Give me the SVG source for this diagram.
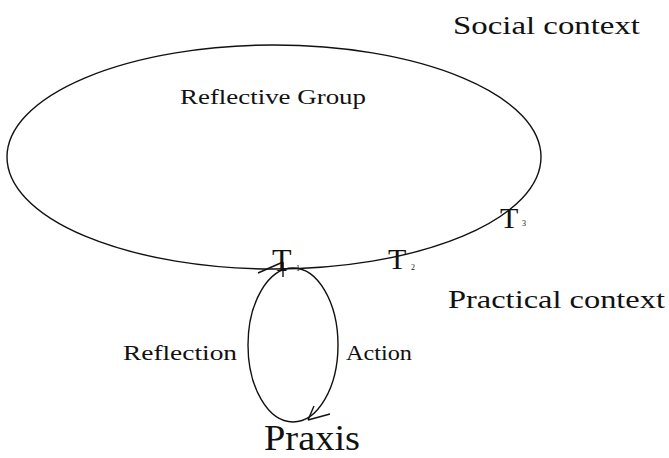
<svg xmlns="http://www.w3.org/2000/svg" width="669" height="458" viewBox="0 0 669 458">
<style>
.l{fill:none;stroke:#111;stroke-width:1.4}
.t{font-family:"Liberation Serif",serif;fill:#111}
</style>
<rect width="669" height="458" fill="#fff"/>
<g id="connectors">
<path class="l" d="M258,273 L283,262 M283,262 L283,277"/>
<path class="l" d="M308,420 L314,406 M308,420 L330,414"/>
</g>
<g id="reflective-group">
<ellipse class="l" cx="274" cy="157" rx="267" ry="112"/>
<text class="t" x="180" y="104" font-size="21" textLength="186" lengthAdjust="spacingAndGlyphs">Reflective Group</text>
</g>
<g id="praxis-cycle">
<ellipse class="l" cx="293" cy="345" rx="45" ry="77"/>
<text class="t" x="264" y="450" font-size="36" textLength="96" lengthAdjust="spacingAndGlyphs">Praxis</text>
</g>
<g id="social-context"><text class="t" x="453" y="34" font-size="25" textLength="187" lengthAdjust="spacingAndGlyphs">Social context</text></g>
<g id="practical-context"><text class="t" x="448" y="308" font-size="25" textLength="217" lengthAdjust="spacingAndGlyphs">Practical context</text></g>
<g id="reflection"><text class="t" x="123" y="360" font-size="21" textLength="114" lengthAdjust="spacingAndGlyphs">Reflection</text></g>
<g id="action"><text class="t" x="346" y="360" font-size="21" textLength="66" lengthAdjust="spacingAndGlyphs">Action</text></g>
<g id="t1"><text class="t" x="272" y="271" font-size="32">T</text><text class="t" x="296" y="271" font-size="8">1</text></g>
<g id="t2"><text class="t" x="388" y="269" font-size="30">T</text><text class="t" x="411" y="270" font-size="8">2</text></g>
<g id="t3"><text class="t" x="500" y="228" font-size="30">T</text><text class="t" x="522" y="226" font-size="8">3</text></g>
</svg>
